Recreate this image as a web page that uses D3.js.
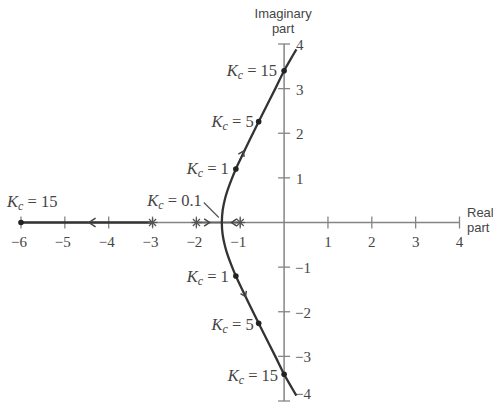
<!DOCTYPE html>
<html>
<head>
<meta charset="utf-8">
<script src="https://cdn.jsdelivr.net/npm/d3@7"></script>
<style>
  html, body { margin: 0; padding: 0; background: #fff; }
  svg { display: block; }
  .serif { font-family: "Liberation Serif", "DejaVu Serif", serif; }
  .sans { font-family: "Liberation Sans", Arial, sans-serif; }
</style>
</head>
<body>
<svg id="chart" width="493" height="404"></svg>
<script>
// Open-loop poles on the real axis
const poles = [-3, -2, -1];

// Real-axis branch: from the pole at -3 out to the Kc = 15 root at -6
const leftBranchRe = [-3, -6];

// Real-axis segment between the two poles that meet at the breakaway point
const innerSegmentRe = [-2, -1];
const breakawayRe = -1.42;

// Upper complex branch (real part, imaginary part); the lower branch is its mirror
const branchRe = [-1.42, -1.40, -1.35, -1.30, -1.20, -1.10, -1.00, -0.80, -0.60, -0.40, -0.20, 0.00, 0.15, 0.28];
const branchIm = [0.00, 0.28, 0.52, 0.69, 0.96, 1.20, 1.41, 1.82, 2.22, 2.61, 3.00, 3.40, 3.66, 3.88];

// Marked gain values along the locus
const gainLabels = ["15", "5", "1", "1", "5", "15", "15", "0.1"];
const gainRe = [0.00, -0.58, -1.10, -1.10, -0.58, 0.00, -6.00, -1.42];
const gainIm = [3.40, 2.26, 1.20, -1.20, -2.26, -3.40, 0.00, 0.00];

// Axis ticks
const xTicks = [-6, -5, -4, -3, -2, -1, 1, 2, 3, 4];
const yTicks = [-4, -3, -2, -1, 1, 2, 3, 4];

const svg = d3.select("#chart");
const x = d3.scaleLinear().domain([-6, 4]).range([21, 459.5]);
const y = d3.scaleLinear().domain([-4, 4]).range([401, 44]);

const axisColor = "#858585";
const lineColor = "#333";
const textColor = "#454545";
const fmt = d => d < 0 ? "−" + Math.abs(d) : String(d);

// Real axis
const gx = svg.append("g").attr("transform", `translate(0,${y(0)})`);
gx.append("line").attr("x1", x(-6)).attr("x2", x(4)).attr("stroke", axisColor).attr("stroke-width", 1.5);
gx.selectAll("line.tick").data(xTicks).join("line").attr("class", "tick")
  .attr("x1", d => x(d)).attr("x2", d => x(d)).attr("y1", -6).attr("y2", 6)
  .attr("stroke", axisColor).attr("stroke-width", 1.3);
gx.selectAll("text").data(xTicks).join("text").attr("class", "serif")
  .attr("x", d => x(d) + (d < 0 ? -2 : 0)).attr("y", 24)
  .attr("text-anchor", "middle").attr("font-size", 15).attr("fill", textColor)
  .text(fmt);

// Imaginary axis
const gy = svg.append("g").attr("transform", `translate(${x(0)},0)`);
gy.append("line").attr("y1", y(4)).attr("y2", y(-4)).attr("stroke", axisColor).attr("stroke-width", 1.5);
gy.selectAll("line.tick").data(yTicks).join("line").attr("class", "tick")
  .attr("y1", d => y(d)).attr("y2", d => y(d)).attr("x1", -6).attr("x2", 6)
  .attr("stroke", axisColor).attr("stroke-width", 1.3);
gy.selectAll("text").data(yTicks).join("text").attr("class", "serif")
  .attr("x", d => d < 0 ? 11 : 12).attr("y", d => Math.min(y(d) + 6, 399))
  .attr("font-size", 15).attr("fill", textColor)
  .text(fmt);

// Axis titles
svg.append("text").attr("class", "sans").attr("x", x(0) - 1).attr("y", 18)
  .attr("text-anchor", "middle").attr("font-size", 13).attr("fill", textColor).text("Imaginary");
svg.append("text").attr("class", "sans").attr("x", x(0) - 1).attr("y", 33)
  .attr("text-anchor", "middle").attr("font-size", 13).attr("fill", textColor).text("part");
svg.append("text").attr("class", "sans").attr("x", 467).attr("y", y(0) - 6)
  .attr("font-size", 13).attr("fill", textColor).text("Real");
svg.append("text").attr("class", "sans").attr("x", 467).attr("y", y(0) + 9)
  .attr("font-size", 13).attr("fill", textColor).text("part");

// Real-axis parts of the locus
svg.append("line").attr("x1", x(leftBranchRe[0])).attr("x2", x(leftBranchRe[1]))
  .attr("y1", y(0)).attr("y2", y(0)).attr("stroke", lineColor).attr("stroke-width", 2.3);
svg.append("line").attr("x1", x(innerSegmentRe[0])).attr("x2", x(innerSegmentRe[1]))
  .attr("y1", y(0)).attr("y2", y(0)).attr("stroke", "#666").attr("stroke-width", 2);

// Complex branches
const upper = branchRe.map((r, i) => [r, branchIm[i]]);
const lower = upper.map(([r, im]) => [r, -im]).reverse();
const both = lower.concat(upper.slice(1));
const line = d3.line().x(d => x(d[0])).y(d => y(d[1])).curve(d3.curveCatmullRom.alpha(0.5));
svg.append("path").attr("d", line(both)).attr("fill", "none")
  .attr("stroke", lineColor).attr("stroke-width", 2.3);

// Direction arrows (open chevrons)
function chevron(px, py, angleDeg, size) {
  const s = size || 1;
  svg.append("path")
    .attr("d", `M${6 * s},${-4 * s} L0,0 L${6 * s},${4 * s}`)
    .attr("transform", `translate(${px},${py}) rotate(${angleDeg})`)
    .attr("fill", "none").attr("stroke", "#444").attr("stroke-width", 1.5);
}
chevron(x(-4.45), y(0), 0, 1.1);
chevron(x(-1.7), y(0), 180, 0.9);
chevron(x(-1.2), y(0), 0, 0.9);
// along the complex branches, pointing away from the breakaway point
const upDir = Math.atan2(y(2.22) - y(1.20), x(-0.60) - x(-1.10)) * 180 / Math.PI;
chevron(x(-0.93), y(1.60), upDir + 180, 0.8);
const dnDir = Math.atan2(y(-2.22) - y(-1.20), x(-0.60) - x(-1.10)) * 180 / Math.PI;
chevron(x(-0.88), y(-1.66), dnDir + 180, 0.8);

// Poles drawn as asterisks
poles.forEach(p => {
  const g = svg.append("g").attr("transform", `translate(${x(p)},${y(0)})`);
  [0, 45, 90, 135].forEach(a => {
    g.append("line").attr("x1", -5).attr("x2", 5).attr("y1", 0).attr("y2", 0)
      .attr("transform", `rotate(${a})`).attr("stroke", "#555").attr("stroke-width", 1.2);
  });
});

// Gain markers and labels
const markerIdx = d3.range(gainLabels.length).filter(i => gainLabels[i] !== "0.1");
svg.selectAll("circle.gain").data(markerIdx).join("circle").attr("class", "gain")
  .attr("cx", i => x(gainRe[i])).attr("cy", i => y(gainIm[i])).attr("r", 2.8).attr("fill", "#222");

const labelOffsets = [[-7, 5], [-5, 5], [-7, 5], [-7, 6], [-5, 7], [-6, 7], [0, -16], [-20, -17]];
gainLabels.forEach((lab, i) => {
  const t = svg.append("text").attr("class", "serif").attr("font-size", 16.5).attr("fill", textColor)
    .attr("x", i === 6 ? 7 : x(gainRe[i]) + labelOffsets[i][0])
    .attr("y", y(gainIm[i]) + labelOffsets[i][1])
    .attr("text-anchor", i === 6 ? "start" : "end");
  t.append("tspan").attr("font-style", "italic").text("K");
  t.append("tspan").attr("font-style", "italic").attr("font-size", 12).attr("dy", 3).text("c");
  t.append("tspan").attr("dy", -3).text(" = " + lab);
});

// Leader line from the Kc = 0.1 label to the breakaway point
svg.append("line").attr("x1", x(breakawayRe) - 18).attr("y1", y(0) - 20)
  .attr("x2", x(breakawayRe) - 3).attr("y2", y(0) - 5)
  .attr("stroke", "#555").attr("stroke-width", 1.2);
</script>
</body>
</html>
